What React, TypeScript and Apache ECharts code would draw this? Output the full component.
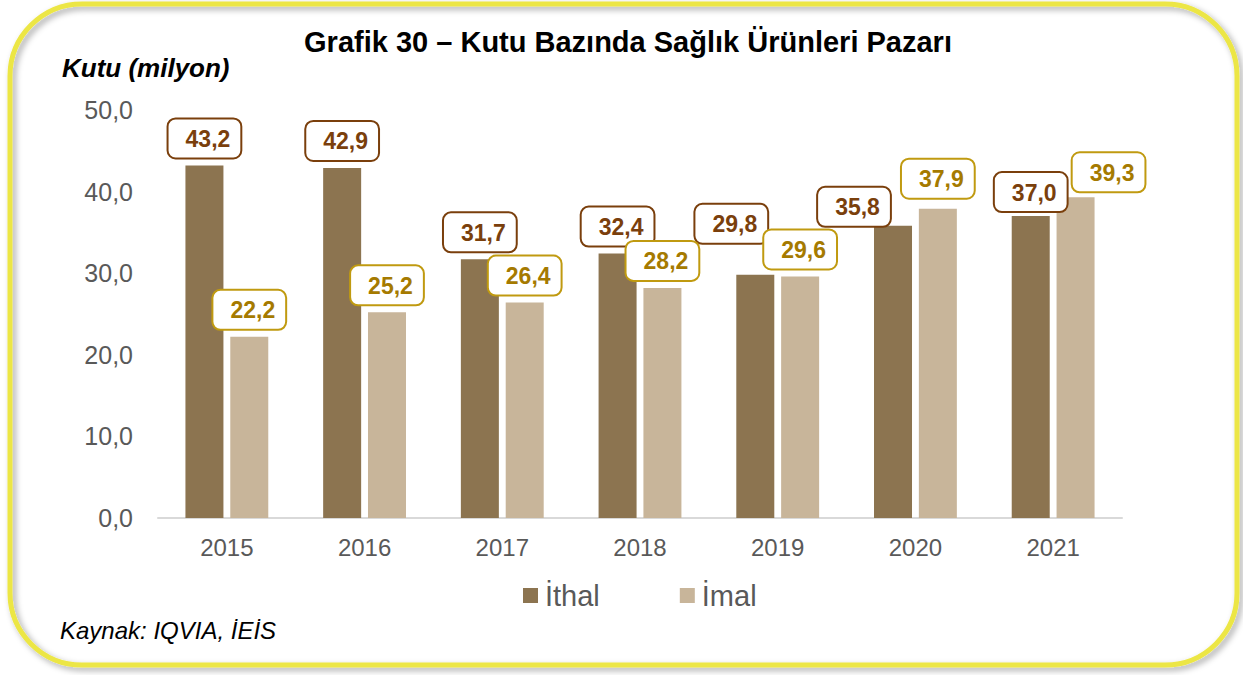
import React, { useEffect, useRef } from "react";
import * as echarts from "echarts";

const years = ["2015", "2016", "2017", "2018", "2019", "2020", "2021"];
const ithal = [43.2, 42.9, 31.7, 32.4, 29.8, 35.8, 37.0];
const imal = [22.2, 25.2, 26.4, 28.2, 29.6, 37.9, 39.3];
const seriesNames = ["İthal", "İmal"];
const yTicks = { min: 0, max: 50, interval: 10 };

// label placement tweaks (presentation only)
const ithalLabelOffsets = [[0, 0], [0, 0], [0, 0], [0, 0], [-24, -24], [-39, 8], [0, 3]];
const imalLabelOffsets = [[0, 0], [0, 0], [0, 0], [0, 0], [0, 0], [0, -3], [33, 2]];

const fmt = (v: number) => v.toFixed(1).replace(".", ",");

export default function App() {
  const ref = useRef<HTMLDivElement>(null);
  useEffect(() => {
    document.body.style.margin = "0";
    const chart = echarts.init(ref.current!, null, { renderer: "svg" });
    const font = "'Liberation Sans', Arial, sans-serif";
    const labelBase = (color: string, border: string) => ({
      show: true,
      position: "top",
      distance: 8,
      formatter: (p: any) => fmt(p.value),
      fontFamily: font,
      fontWeight: "bold",
      fontSize: 23,
      lineHeight: 27,
      color,
      backgroundColor: "#fff",
      borderColor: border,
      borderWidth: 2,
      borderRadius: 7,
      padding: [6, 10, 5, 17],
    });
    const mk = (vals: number[], offs: number[][]) =>
      vals.map((v, i) => ({ value: v, label: { offset: offs[i] } }));
    chart.setOption({
      animation: false,
      textStyle: { fontFamily: font },
      grid: { left: 158, right: 121, top: 110, bottom: 157 },
      legend: {
        data: seriesNames,
        top: 576,
        left: 518,
        icon: "rect",
        itemWidth: 15,
        itemHeight: 15,
        itemGap: 80,
        textStyle: { fontSize: 29, color: "#595959", fontFamily: font, padding: [0, 0, 0, 2] },
      },
      xAxis: {
        type: "category",
        data: years,
        axisLine: { lineStyle: { color: "#D9D9D9", width: 2 } },
        axisTick: { show: false },
        axisLabel: { fontSize: 24, color: "#595959", margin: 17, fontFamily: font },
      },
      yAxis: {
        type: "value",
        min: yTicks.min,
        max: yTicks.max,
        interval: yTicks.interval,
        splitLine: { show: false },
        axisLine: { show: false },
        axisTick: { show: false },
        axisLabel: {
          fontSize: 25,
          color: "#595959",
          margin: 25,
          fontFamily: font,
          formatter: (v: number) => fmt(v),
        },
      },
      series: [
        {
          name: seriesNames[0],
          type: "bar",
          data: mk(ithal, ithalLabelOffsets),
          barWidth: 38,
          barGap: "18%",
          itemStyle: { color: "#8C7450" },
          label: labelBase("#7A3F0C", "#7A3F0C"),
        },
        {
          name: seriesNames[1],
          type: "bar",
          data: mk(imal, imalLabelOffsets),
          barWidth: 38,
          itemStyle: { color: "#C8B59A" },
          label: labelBase("#A57A00", "#C09A10"),
        },
      ],
      graphic: [
        {
          type: "rect",
          z: -10,
          silent: true,
          shape: { x: 10, y: 4, width: 1227, height: 661, r: 72 },
          style: {
            fill: "none",
            stroke: "#ECE644",
            lineWidth: 5,
            shadowColor: "rgba(0,0,0,0.35)",
            shadowBlur: 6,
            shadowOffsetX: 3,
            shadowOffsetY: 3,
          },
        },
        {
          type: "text",
          x: 628,
          y: 27,
          style: {
            text: "Grafik 30 – Kutu Bazında Sağlık Ürünleri Pazarı",
            fontFamily: font,
            fontWeight: "bold",
            fontSize: 29,
            fill: "#000",
            textAlign: "center",
          },
        },
        {
          type: "text",
          x: 62,
          y: 55,
          style: {
            text: "Kutu (milyon)",
            fontFamily: font,
            fontWeight: "bold",
            fontStyle: "italic",
            fontSize: 26,
            fill: "#000",
          },
        },
        {
          type: "text",
          x: 60,
          y: 618,
          style: {
            text: "Kaynak: IQVIA, İEİS",
            fontFamily: font,
            fontStyle: "italic",
            fontSize: 24,
            fill: "#000",
          },
        },
      ],
    });
    return () => chart.dispose();
  }, []);
  return (
    <div
      ref={ref}
      style={{ position: "absolute", left: 0, top: 0, width: 1243, height: 675, background: "#fff" }}
    />
  );
}
